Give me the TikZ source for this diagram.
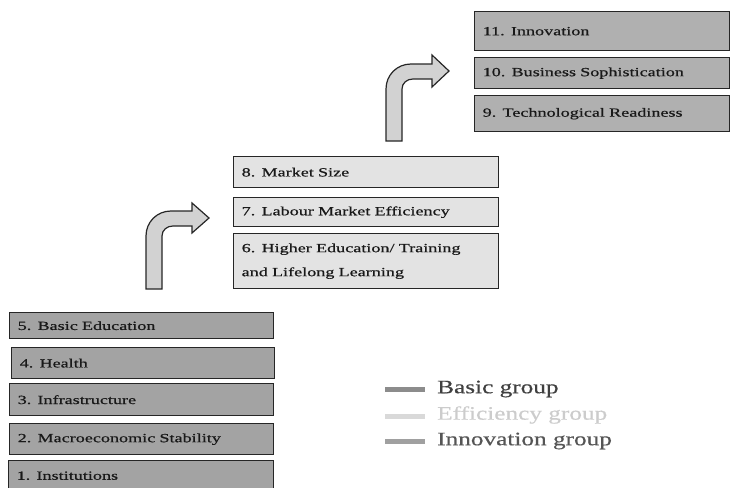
\documentclass[tikz,border=0pt]{standalone}
\usepackage{fontspec}
\setmainfont{Liberation Serif}
\newfontfamily\boxfont[FakeStretch=1.45,FakeBold=0.6]{Liberation Serif}
\newfontfamily\legfont[FakeStretch=1.33,FakeBold=0.5]{Liberation Serif}
\definecolor{boxline}{HTML}{262626}
\definecolor{basicfill}{HTML}{A3A3A3}
\definecolor{efffill}{HTML}{E3E3E3}
\definecolor{innofill}{HTML}{B0B0B0}
\definecolor{arrowfill}{HTML}{D2D2D2}
\definecolor{legbasic}{HTML}{8C8C8C}
\definecolor{legeff}{HTML}{D9D9D9}
\definecolor{leginno}{HTML}{A0A0A0}
\definecolor{legbasictext}{HTML}{404040}
\definecolor{legefftext}{HTML}{CCCCCC}
\definecolor{leginnotext}{HTML}{555555}
\begin{document}
\begin{tikzpicture}[x=1pt,y=-1pt,
  box/.style={draw=boxline, line width=1.4pt, anchor=north west, inner xsep=8pt,
    inner ysep=0pt, align=left, text=black!90,
    font=\boxfont\fontsize{12.5}{24}\selectfont},
  basicbox/.style={box, fill=basicfill},
  effbox/.style={box, fill=efffill},
  innobox/.style={box, fill=innofill},
  bendarrow/.style={draw=boxline, line width=1.2pt, fill=arrowfill, line join=miter},
  swatch/.style={minimum width=40pt, minimum height=5pt, inner sep=0pt, draw=none},
  legtext/.style={anchor=west, inner sep=0pt, font=\legfont\fontsize{19}{22}\selectfont}
]
\useasboundingbox (0,0) rectangle (730,487);

% Basic group
\node[basicbox, text width=248pt, minimum height=26pt] (b5) at (9,312) {5. Basic Education};
\node[basicbox, text width=247pt, minimum height=31pt] (b4) at (11,347) {4. Health};
\node[basicbox, text width=248pt, minimum height=32pt] (b3) at (9,383) {3. Infrastructure};
\node[basicbox, text width=248pt, minimum height=31pt] (b2) at (9,423) {2. Macroeconomic Stability};
\node[basicbox, text width=249pt, minimum height=30pt] (b1) at (8,460) {1. Institutions};

% Efficiency group
\node[effbox, text width=249pt, minimum height=31pt] (e8) at (233,156) {8. Market Size};
\node[effbox, text width=249pt, minimum height=29pt] (e7) at (233,197) {7. Labour Market Efficiency};
\node[effbox, text width=249pt, minimum height=55pt] (e6) at (233,233) {6. Higher Education/ Training\\and Lifelong Learning};

% Innovation group
\node[innobox, text width=239pt, minimum height=39pt] (i11) at (474,11) {11. Innovation};
\node[innobox, text width=239pt, minimum height=31pt] (i10) at (474,57) {10. Business Sophistication};
\node[innobox, text width=239pt, minimum height=36pt] (i9) at (474,95) {9. Technological Readiness};

% Bent arrows
\draw[bendarrow] (146,289) -- (146,236) .. controls (146,222) and (157,211) .. (171,211)
  -- (192,211) -- (192,203) -- (209,218) -- (192,233) -- (192,226) -- (173,226)
  .. controls (167,226) and (162,230) .. (162,236) -- (162,289) -- cycle;
\draw[bendarrow] (386,141) -- (386,89) .. controls (386,75) and (397,64) .. (411,64)
  -- (432,64) -- (432,55) -- (449,71) -- (432,87) -- (432,79) -- (413,79)
  .. controls (407,79) and (402,83) .. (402,89) -- (402,141) -- cycle;

% Legend
\node[swatch, fill=legbasic] (lb) at (405,389) {};
\node[legtext, text=legbasictext] (lbt) at (437,389) {Basic group};
\node[swatch, fill=legeff] (le) at (405,416) {};
\node[legtext, text=legefftext] (let) at (437,415) {Efficiency group};
\node[swatch, fill=leginno] (li) at (405,441) {};
\node[legtext, text=leginnotext] (lit) at (437,441) {Innovation group};
\end{tikzpicture}
\end{document}
